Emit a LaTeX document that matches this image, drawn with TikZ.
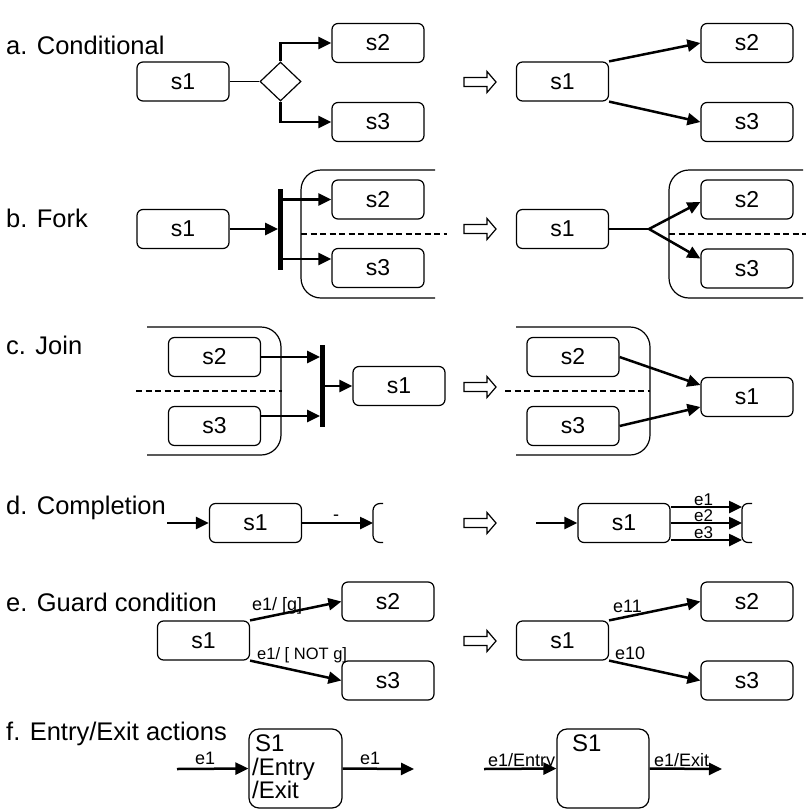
\documentclass[tikz,border=0pt]{standalone}
\usepackage{fontspec}
\setmainfont{Liberation Sans}
\usetikzlibrary{arrows.meta,shapes.geometric,calc}
\begin{document}
\begin{tikzpicture}[x=1pt,y=-1pt,
  statebox/.style={draw, rounded corners=6pt, minimum width=92pt, minimum height=39pt, inner sep=0pt, line width=1.2pt, font=\fontsize{23}{27}\selectfont},
  boxtext/.style={anchor=base west, inner sep=0pt, font=\fontsize{24}{28}\selectfont},
  sectlabel/.style={anchor=base west, inner sep=0pt, font=\fontsize{25.5}{30}\selectfont},
  evlabel/.style={anchor=base west, inner sep=0pt, font=\fontsize{18}{21}\selectfont},
  thickarrow/.style={line width=2.5pt, -{Triangle[length=13pt,width=12pt]}},
  thinline/.style={line width=1.2pt},
  forkbar/.style={fill=black, draw=none, minimum width=4.5pt, inner sep=0pt},
  container/.style={line width=1.2pt, rounded corners=20pt},
  divider/.style={line width=1.4pt, dash pattern=on 6pt off 3.5pt},
  hollow/.pic={\draw[line width=1.2pt, line join=miter] (0,-4.5) -- (23,-4.5) -- (23,-10.5) -- (32,0) -- (23,10.5) -- (23,4.5) -- (0,4.5) -- cycle;}
]
\useasboundingbox (0,0) rectangle (806,809);

% ---------- a. Conditional ----------
\node[sectlabel] (la) at (6,54) {a. Conditional};
\node[statebox] (a1) at (183,81.5) {s1};
\node[draw, diamond, minimum width=41pt, minimum height=39pt, inner sep=0pt, line width=1.2pt] (ad) at (280.5,81.5) {};
\node[statebox] (a2) at (378,43) {s2};
\node[statebox] (a3) at (378,122) {s3};
\draw[thinline] (a1) -- (ad);
\draw[thickarrow] (ad.north) |- (a2.west);
\draw[thickarrow] (ad.south) |- (a3.west);

\pic at (464,82) {hollow};
\node[statebox] (ra1) at (562.5,81.5) {s1};
\node[statebox] (ra2) at (747,43) {s2};
\node[statebox] (ra3) at (747,122) {s3};
\draw[thickarrow] (ra1.north east) -- (ra2.west);
\draw[thickarrow] (ra1.south east) -- (ra3.west);

% ---------- b. Fork ----------
\node[sectlabel] (lb) at (6,227) {b. Fork};
\node[statebox] (b1) at (183,229) {s1};
\node[forkbar, minimum height=81pt] (bbar) at (280.5,229.5) {};
\node[statebox] (b2) at (378,199.5) {s2};
\node[statebox] (b3) at (378,268) {s3};
\coordinate (b3in) at ($(b3.west)+(0,-9)$);
\draw[thickarrow] (b1.east) -- (b1.east -| bbar.west);
\draw[thickarrow] (b2.west -| bbar.east) -- (b2.west);
\draw[thickarrow] (b3in -| bbar.east) -- (b3in);
\draw[container] (435,170) -- (301,170) -- (301,298) -- (435,298);
\draw[divider] (301,234) -- (447,234);

\pic at (464,229) {hollow};
\node[statebox] (rb1) at (562.5,229) {s1};
\coordinate (rbj) at (649,229);
\node[statebox] (rb2) at (747,199.5) {s2};
\node[statebox] (rb3) at (747,268.5) {s3};
\draw[thinline] (rb1.east) -- (rbj);
\draw[thickarrow] (rbj) -- ($(rb2.west)+(0,2.5)$);
\draw[thickarrow] (rbj) -- ($(rb3.west)+(0,-10)$);
\draw[container] (803,170) -- (669,170) -- (669,298) -- (803,298);
\draw[divider] (669,234) -- (806,234);

% ---------- c. Join ----------
\node[sectlabel] (lc) at (6,354.5) {c. Join};
\draw[container] (147,327) -- (281,327) -- (281,455) -- (147,455);
\draw[divider] (136,391) -- (282,391);
\node[statebox] (c2) at (214.5,357) {s2};
\node[statebox] (c3) at (214.5,426) {s3};
\node[forkbar, minimum height=82pt] (cbar) at (322.5,386) {};
\node[statebox] (c1) at (399,386) {s1};
\coordinate (c3out) at ($(c3.east)+(0,-10)$);
\draw[thickarrow] (c2.east) -- (c2.east -| cbar.west);
\draw[thickarrow] (c3out) -- (c3out -| cbar.west);
\draw[thickarrow] (cbar.east) -- (c1.west);

\pic at (464,387) {hollow};
\draw[container] (516,327) -- (650,327) -- (650,455) -- (516,455);
\draw[divider] (505,391) -- (650,391);
\node[statebox] (rc2) at (573,357) {s2};
\node[statebox] (rc3) at (573,426) {s3};
\node[statebox] (rc1) at (747,397) {s1};
\draw[thickarrow] (rc2.east) -- ($(rc1.west)+(0,-12)$);
\draw[thickarrow] (rc3.east) -- ($(rc1.west)+(0,10)$);

% ---------- d. Completion ----------
\node[sectlabel] (ld) at (6,514) {d. Completion};
\node[statebox] (d1) at (255.5,523) {s1};
\coordinate (din) at (167,523);
\coordinate (dout) at (373,523);
\draw[thickarrow] (din) -- (d1.west);
\draw[thickarrow] (d1.east) -- (dout);
\node[evlabel] (ddash) at (333,520) {-};
\draw[thinline, rounded corners=7pt] (383,503.5) -- (373,503.5) -- (373,542.5) -- (383,542.5);

\pic at (464,523) {hollow};
\node[statebox] (rd1) at (624,523) {s1};
\coordinate (rdin) at (536,523);
\coordinate (rde1) at (742,507);
\coordinate (rde2) at (742,523);
\coordinate (rde3) at (742,540);
\draw[thickarrow] (rdin) -- (rd1.west);
\draw[thickarrow] (rd1.east |- rde1) -- (rde1);
\draw[thickarrow] (rd1.east |- rde2) -- (rde2);
\draw[thickarrow] (rd1.east |- rde3) -- (rde3);
\node[evlabel, font=\fontsize{17}{20}\selectfont] (le1) at (694,505) {e1};
\node[evlabel, font=\fontsize{17}{20}\selectfont] (le2) at (694,521) {e2};
\node[evlabel, font=\fontsize{17}{20}\selectfont] (le3) at (694,538) {e3};
\draw[thinline, rounded corners=6pt] (752,503.5) -- (742,503.5) -- (742,542.5) -- (752,542.5);

% ---------- e. Guard condition ----------
\node[sectlabel] (le) at (6,611) {e. Guard condition};
\node[statebox] (e1) at (203.5,640.5) {s1};
\node[statebox] (e2) at (388,601.5) {s2};
\node[statebox] (e3) at (388,680.5) {s3};
\draw[thickarrow] (e1.north east) -- (e2.west);
\draw[thickarrow] (e1.south east) -- (e3.west);
\node[evlabel] (eg) at (252,610) {e1/ [g]};
\node[evlabel, font=\fontsize{16.5}{19}\selectfont] (eng) at (257,659) {e1/ [ NOT g]};

\pic at (464,641) {hollow};
\node[statebox] (re1) at (562.5,640.5) {s1};
\node[statebox] (re2) at (747,601.5) {s2};
\node[statebox] (re3) at (747,680.5) {s3};
\draw[thickarrow] (re1.north east) -- (re2.west);
\draw[thickarrow] (re1.south east) -- (re3.west);
\node[evlabel] (e11) at (613,612) {e11};
\node[evlabel] (e10) at (615,659) {e10};

% ---------- f. Entry/Exit actions ----------
\node[sectlabel] (lf) at (6,740) {f. Entry/Exit actions};
\node[statebox, minimum width=93pt, minimum height=79pt, rounded corners=10pt] (f1) at (295.5,768.5) {};
\node[boxtext] (f1s) at (255,751) {S1};
\node[boxtext] (f1en) at (252,775) {/Entry};
\node[boxtext] (f1ex) at (252,798) {/Exit};
\coordinate (fin) at (177,769);
\coordinate (fout) at (414,769);
\draw[thickarrow] (fin) -- (f1.west);
\draw[thickarrow] (f1.east) -- (fout);
\node[evlabel] (fe1a) at (195,764) {e1};
\node[evlabel] (fe1b) at (360,764) {e1};

\node[statebox, minimum width=92pt, minimum height=79pt, rounded corners=10pt] (rf1) at (603,768.5) {};
\node[boxtext] (rf1s) at (572,751) {S1};
\coordinate (rfin) at (484,769);
\coordinate (rfout) at (722,769);
\draw[thickarrow] (rfin) -- (rf1.west);
\draw[thickarrow] (rf1.east) -- (rfout);
\node[evlabel] (rfen) at (488,766) {e1/Entry};
\node[evlabel] (rfex) at (654,766) {e1/Exit};
\end{tikzpicture}
\end{document}
